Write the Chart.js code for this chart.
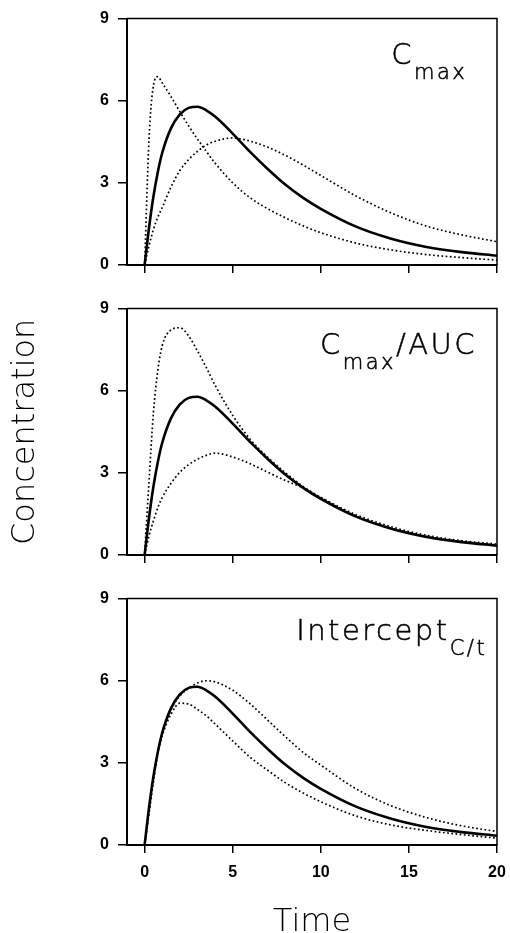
<!DOCTYPE html>
<html>
<head>
<meta charset="utf-8">
<script src="https://cdn.jsdelivr.net/npm/chart.js@4.4.0/dist/chart.umd.min.js"></script>
<style>
  html, body { margin: 0; padding: 0; background: #fff; }
  #wrap { position: relative; width: 510px; height: 933px; overflow: hidden; }
  canvas { position: absolute; left: 0; }
</style>
</head>
<body>
<div id="wrap">
  <canvas id="panel1" width="510" height="290" style="top:0px"></canvas>
  <canvas id="panel2" width="510" height="290" style="top:290px"></canvas>
  <canvas id="panel3" width="510" height="353" style="top:580px"></canvas>
</div>
<script>
// sampling times shared by every curve
var times = [0, 0.25, 0.5, 0.75, 1, 1.5, 2, 2.5, 3, 3.5, 4, 5, 6, 7, 8, 9, 10, 12, 14, 16, 18, 20];

// solid reference profile (same in all three panels)
var reference = [0, 1.36, 2.5, 3.4, 4.1, 5.0, 5.5, 5.74, 5.78, 5.65, 5.42, 4.8, 4.12, 3.5, 2.93, 2.45, 2.05, 1.4, 0.96, 0.66, 0.47, 0.34];

// panel 1: Cmax
var cmaxHigh = [0, 4.6, 6.55, 6.88, 6.65, 6.15, 5.6, 5.08, 4.6, 4.15, 3.72, 3.0, 2.45, 2.05, 1.72, 1.43, 1.18, 0.8, 0.55, 0.38, 0.27, 0.18];
var cmaxLow = [0, 0.7, 1.3, 1.75, 2.1, 2.85, 3.45, 3.85, 4.15, 4.38, 4.52, 4.64, 4.52, 4.3, 4.0, 3.65, 3.27, 2.52, 1.9, 1.42, 1.1, 0.85];

// panel 2: Cmax/AUC
var ratioHigh = [0, 2.7, 5.2, 6.75, 7.65, 8.22, 8.3, 8.0, 7.45, 6.85, 6.2, 5.1, 4.22, 3.56, 3.0, 2.5, 2.1, 1.42, 0.98, 0.68, 0.49, 0.36];
var ratioLow = [0, 0.7, 1.25, 1.73, 2.1, 2.62, 3.02, 3.3, 3.5, 3.64, 3.72, 3.58, 3.33, 3.02, 2.72, 2.45, 2.1, 1.47, 1.03, 0.72, 0.52, 0.4];

// panel 3: Intercept C/t
var interceptHigh = [0, 1.15, 2.3, 3.4, 4.1, 4.95, 5.45, 5.72, 5.92, 6.0, 5.96, 5.65, 5.15, 4.55, 3.95, 3.38, 2.92, 2.05, 1.43, 1.0, 0.7, 0.49];
var interceptLow = [0, 1.25, 2.45, 3.35, 4.0, 4.78, 5.18, 5.15, 4.95, 4.72, 4.42, 3.8, 3.2, 2.72, 2.27, 1.9, 1.58, 1.06, 0.73, 0.53, 0.38, 0.25];

var timeTicks = [0, 5, 10, 15, 20];
var concTicks = [0, 3, 6, 9];

var tickFont = { family: "'Liberation Sans', Arial, sans-serif", size: 16, weight: 'bold' };
var titleFont = { family: "'DejaVu Sans', sans-serif", size: 32, weight: 300, lineHeight: 0.625 };
var labelFamily = "'DejaVu Sans', sans-serif";

// top and right edges of the box
var frame = {
    id: 'frame',
    afterDraw: function(chart) {
        var a = chart.chartArea, ctx = chart.ctx;
        ctx.save();
        ctx.strokeStyle = '#000';
        ctx.lineWidth = 1.5;
        ctx.beginPath();
        ctx.moveTo(a.left, a.top);
        ctx.lineTo(a.right, a.top);
        ctx.lineTo(a.right, a.bottom);
        ctx.stroke();
        ctx.restore();
    }
};

// panel name with subscript parts, placed in data units
var panelLabel = {
    id: 'panelLabel',
    afterDatasetsDraw: function(chart, args, opts) {
        var ctx = chart.ctx;
        var x = chart.scales.x.getPixelForValue(opts.x);
        var y = chart.scales.y.getPixelForValue(opts.y);
        ctx.save();
        ctx.fillStyle = '#000';
        ctx.strokeStyle = '#000';
        ctx.lineWidth = 0.5;
        ctx.textBaseline = 'alphabetic';
        ctx.textAlign = 'left';
        ctx.letterSpacing = '2.5px';
        opts.parts.forEach(function(p) {
            ctx.font = '300 ' + (p.sub ? '21px ' : '29px ') + labelFamily;
            var ty = p.sub ? y + 15 : y;
            ctx.fillText(p.text, x, ty);
            ctx.strokeText(p.text, x, ty);
            x += ctx.measureText(p.text).width;
        });
        ctx.restore();
    }
};

function curve(values, dotted) {
    return {
        data: times.map(function(t, i) { return { x: t, y: values[i] }; }),
        borderColor: '#000',
        borderWidth: dotted ? 1.7 : 2.6,
        borderDash: dotted ? [1.7, 2.5] : [],
        pointRadius: 0,
        fill: false,
        cubicInterpolationMode: 'monotone'
    };
}

function makePanel(id, high, low, label, cfg) {
    return new Chart(document.getElementById(id), {
        type: 'line',
        data: { datasets: [curve(reference, false), curve(high, true), curve(low, true)] },
        options: {
            responsive: false,
            animation: false,
            events: [],
            layout: { padding: { top: cfg.padTop, right: 13, left: 0, bottom: 0 } },
            plugins: {
                legend: { display: false },
                tooltip: { enabled: false },
                panelLabel: label
            },
            scales: {
                x: {
                    type: 'linear',
                    min: -1,
                    max: 20,
                    afterBuildTicks: function(s) { s.ticks = timeTicks.map(function(v) { return { value: v }; }); },
                    afterFit: function(s) {
                        s.height = cfg.xHeight;
                        s.paddingLeft = 0;
                        s.paddingRight = 0;
                    },
                    border: { display: true, color: '#000', width: 2 },
                    grid: { drawOnChartArea: false, drawTicks: true, tickLength: 8, color: '#000', lineWidth: 1.5 },
                    ticks: { display: cfg.xLabels, padding: 10, color: '#000', font: tickFont, maxRotation: 0 },
                    title: { display: cfg.xLabels, text: 'Time', color: '#000', font: titleFont, padding: { top: 0, bottom: 0 } }
                },
                y: {
                    min: 0,
                    max: 9,
                    afterBuildTicks: function(s) { s.ticks = concTicks.map(function(v) { return { value: v }; }); },
                    afterFit: function(s) { s.width = 127; },
                    border: { display: true, color: '#000', width: 2 },
                    grid: { drawOnChartArea: false, drawTicks: true, tickLength: 9, color: '#000', lineWidth: 1.5 },
                    ticks: { padding: 9, color: '#000', font: tickFont },
                    title: { display: cfg.yTitle, text: 'Concentration', color: '#000', font: titleFont, padding: { top: 16, bottom: 0 } }
                }
            }
        },
        plugins: [panelLabel, frame]
    });
}

makePanel('panel1', cmaxHigh, cmaxLow,
    { x: 14.0, y: 7.34, parts: [{ text: 'C' }, { text: 'max', sub: true }] },
    { padTop: 17, xHeight: 25, xLabels: false, yTitle: false });

makePanel('panel2', ratioHigh, ratioLow,
    { x: 9.95, y: 7.34, parts: [{ text: 'C' }, { text: 'max', sub: true }, { text: '/' }, { text: 'AUC' }] },
    { padTop: 16, xHeight: 25, xLabels: false, yTitle: true });

makePanel('panel3', interceptHigh, interceptLow,
    { x: 8.6, y: 7.47, parts: [{ text: 'Intercept' }, { text: 'C/t', sub: true }] },
    { padTop: 18, xHeight: 88, xLabels: true, yTitle: false });
</script>
</body>
</html>
